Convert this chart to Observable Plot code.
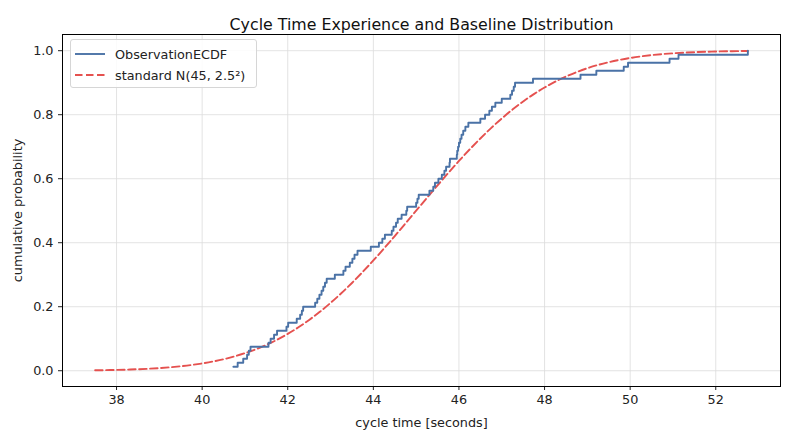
<!DOCTYPE html>
<html><head><meta charset="utf-8">
<script src="https://cdn.jsdelivr.net/npm/d3@7"></script>
<script src="https://cdn.jsdelivr.net/npm/@observablehq/plot@0.6"></script>
<style>
body{margin:0;background:#fff;font-family:"DejaVu Sans",sans-serif;}
#wrap{position:relative;width:789px;height:440px;}
.legend{position:absolute;left:70px;top:39px;width:187px;height:49px;border:1px solid #d6d6d6;border-radius:3px;background:rgba(255,255,255,0.85);box-sizing:border-box;font-size:12.8px;color:#222;}
.legend .row{position:absolute;left:3px;height:20px;display:flex;align-items:center;}
.legend svg{width:32px;height:6px;margin-right:9px;}
</style></head><body><div id="wrap"></div><script>
// Observed cycle times (seconds), sorted, n = 80
const observations = [
 40.73,40.83,40.96,41.05,41.09,41.13,41.55,41.60,41.68,41.75,
 41.97,42.01,42.21,42.29,42.33,42.36,42.64,42.69,42.74,42.79,
 42.83,42.87,42.91,43.10,43.30,43.35,43.45,43.51,43.56,43.63,
 43.94,44.13,44.21,44.27,44.43,44.47,44.53,44.57,44.66,44.77,
 44.79,45.00,45.03,45.06,45.31,45.40,45.44,45.52,45.60,45.66,
 45.70,45.78,45.79,45.95,45.96,45.98,46.00,46.03,46.06,46.10,
 46.15,46.22,46.50,46.61,46.71,46.77,46.85,47.00,47.20,47.24,
 47.28,47.31,47.73,48.84,49.21,49.85,49.95,50.92,51.13,52.75
];
// Baseline curve samples: N(45, 2.5^2) CDF
const baselineX = [
 37.5,37.75,38,38.25,38.5,38.75,39,39.25,39.5,39.75,40,40.25,40.5,40.75,41,41.25,
 41.5,41.75,42,42.25,42.5,42.75,43,43.25,43.5,43.75,44,44.25,44.5,44.75,45,45.25,
 45.5,45.75,46,46.25,46.5,46.75,47,47.25,47.5,47.75,48,48.25,48.5,48.75,49,49.25,
 49.5,49.75,50,50.25,50.5,50.75,51,51.25,51.5,51.75,52,52.25,52.5,52.75
];
const baselineP = [
 0.00135,0.00187,0.00256,0.00347,0.00466,0.00621,0.00820,0.01072,0.01390,0.01786,
 0.02275,0.02872,0.03593,0.04457,0.05480,0.06681,0.08076,0.09680,0.11507,0.13567,
 0.15866,0.18406,0.21186,0.24196,0.27425,0.30854,0.34458,0.38209,0.42074,0.46017,
 0.5,0.53983,0.57926,0.61791,0.65542,0.69146,0.72575,0.75804,0.78814,0.81594,
 0.84134,0.86433,0.88493,0.90320,0.91924,0.93319,0.94520,0.95543,0.96407,0.97128,
 0.97725,0.98214,0.98610,0.98928,0.99180,0.99379,0.99534,0.99653,0.99744,0.99813,
 0.99865,0.99903
];
const xTicks = [38,40,42,44,46,48,50,52];
const yTicks = [0,0.2,0.4,0.6,0.8,1.0];
const title = "Cycle Time Experience and Baseline Distribution";
const xLabel = "cycle time [seconds]";
const yLabel = "cumulative probability";
const seriesNames = ["ObservationECDF", "standard N(45, 2.5²)"];

const blue = "#4a72a6", red = "#e5514f";
const dash = "7.5,3.5";
const n = observations.length;
const ecdf = observations.map((v, i) => ({x: v, p: (i + 1) / n}));
const base = baselineX.map((v, i) => ({x: v, p: baselineP[i]}));

const chart = Plot.plot({
  width: 789, height: 440,
  marginLeft: 62, marginRight: 9, marginTop: 34, marginBottom: 54,
  style: {fontFamily: '"DejaVu Sans",sans-serif', fontSize: "12.8px", color: "#222"},
  x: {domain: [36.7375, 53.5125], ticks: xTicks, tickFormat: d3.format("d"), tickSize: 4, tickPadding: 4,
      label: xLabel, labelAnchor: "center", labelArrow: "none", labelOffset: 40},
  y: {domain: [-0.0493, 1.0506], ticks: yTicks, tickFormat: d3.format(".1f"), tickSize: 4, tickPadding: 5,
      label: yLabel, labelAnchor: "center", labelArrow: "none", labelOffset: 50},
  marks: [
    Plot.gridX(xTicks, {stroke: "#dcdcdc", strokeOpacity: 1, strokeWidth: 0.8}),
    Plot.gridY(yTicks, {stroke: "#dcdcdc", strokeOpacity: 1, strokeWidth: 0.8}),
    Plot.line(base, {x: "x", y: "p", stroke: red, strokeWidth: 1.9, strokeDasharray: dash, curve: "monotone-x"}),
    Plot.line(ecdf, {x: "x", y: "p", stroke: blue, strokeWidth: 1.9, curve: "step-after"}),
    Plot.frame({stroke: "#000", strokeWidth: 1}),
    Plot.text([title], {frameAnchor: "top", dy: -16, fontSize: 15.8, fill: "#111"})
  ]
});
const wrap = document.getElementById("wrap");
wrap.appendChild(chart);
const leg = document.createElement("div");
leg.className = "legend";
const styles = [[blue, ""], [red, dash]];
seriesNames.forEach((name, i) => {
  const row = document.createElement("div");
  row.className = "row";
  row.style.top = (4 + i * 21) + "px";
  row.innerHTML = `<svg viewBox="0 0 32 6"><line x1="1" y1="3" x2="31" y2="3" stroke="${styles[i][0]}" stroke-width="1.9" ${styles[i][1] ? `stroke-dasharray="${styles[i][1]}"` : ""}/></svg><span>${name}</span>`;
  leg.appendChild(row);
});
wrap.appendChild(leg);
</script></body></html>
